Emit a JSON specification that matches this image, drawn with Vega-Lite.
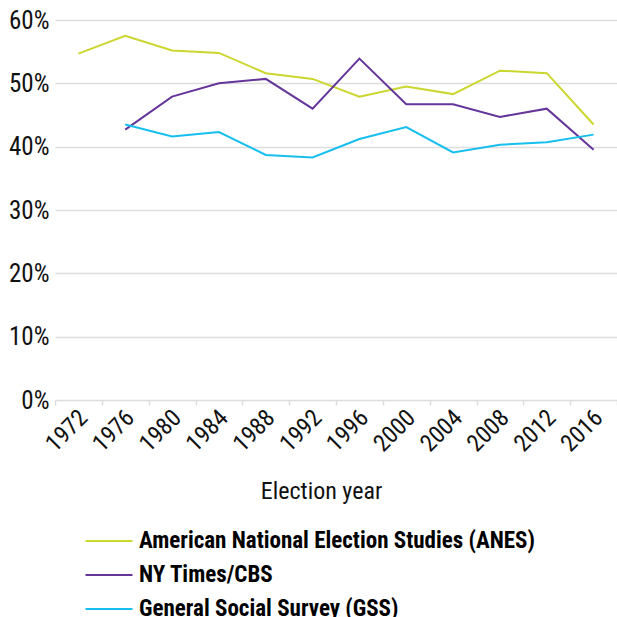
{
  "$schema": "https://vega.github.io/schema/vega-lite/v6.json",
  "autosize": "none",
  "padding": {"left": 55, "top": 20, "right": 0, "bottom": 217},
  "width": 562,
  "height": 380,
  "background": "white",
  "config": {
    "view": {"stroke": null},
    "font": "Roboto Condensed, Liberation Sans Narrow, DejaVu Sans Condensed, sans-serif"
  },
  "data": {
    "values": [
      {"year": "1972", "survey": "American National Election Studies (ANES)", "pct": 54.7},
      {"year": "1976", "survey": "American National Election Studies (ANES)", "pct": 57.5},
      {"year": "1980", "survey": "American National Election Studies (ANES)", "pct": 55.2},
      {"year": "1984", "survey": "American National Election Studies (ANES)", "pct": 54.8},
      {"year": "1988", "survey": "American National Election Studies (ANES)", "pct": 51.6},
      {"year": "1992", "survey": "American National Election Studies (ANES)", "pct": 50.7},
      {"year": "1996", "survey": "American National Election Studies (ANES)", "pct": 47.9},
      {"year": "2000", "survey": "American National Election Studies (ANES)", "pct": 49.5},
      {"year": "2004", "survey": "American National Election Studies (ANES)", "pct": 48.3},
      {"year": "2008", "survey": "American National Election Studies (ANES)", "pct": 52.0},
      {"year": "2012", "survey": "American National Election Studies (ANES)", "pct": 51.6},
      {"year": "2016", "survey": "American National Election Studies (ANES)", "pct": 43.5},
      {"year": "1976", "survey": "NY Times/CBS", "pct": 42.7},
      {"year": "1980", "survey": "NY Times/CBS", "pct": 47.9},
      {"year": "1984", "survey": "NY Times/CBS", "pct": 50.0},
      {"year": "1988", "survey": "NY Times/CBS", "pct": 50.7},
      {"year": "1992", "survey": "NY Times/CBS", "pct": 46.0},
      {"year": "1996", "survey": "NY Times/CBS", "pct": 53.9},
      {"year": "2000", "survey": "NY Times/CBS", "pct": 46.7},
      {"year": "2004", "survey": "NY Times/CBS", "pct": 46.7},
      {"year": "2008", "survey": "NY Times/CBS", "pct": 44.7},
      {"year": "2012", "survey": "NY Times/CBS", "pct": 46.0},
      {"year": "2016", "survey": "NY Times/CBS", "pct": 39.5},
      {"year": "1976", "survey": "General Social Survey (GSS)", "pct": 43.5},
      {"year": "1980", "survey": "General Social Survey (GSS)", "pct": 41.6},
      {"year": "1984", "survey": "General Social Survey (GSS)", "pct": 42.3},
      {"year": "1988", "survey": "General Social Survey (GSS)", "pct": 38.7},
      {"year": "1992", "survey": "General Social Survey (GSS)", "pct": 38.3},
      {"year": "1996", "survey": "General Social Survey (GSS)", "pct": 41.2},
      {"year": "2000", "survey": "General Social Survey (GSS)", "pct": 43.1},
      {"year": "2004", "survey": "General Social Survey (GSS)", "pct": 39.1},
      {"year": "2008", "survey": "General Social Survey (GSS)", "pct": 40.3},
      {"year": "2012", "survey": "General Social Survey (GSS)", "pct": 40.7},
      {"year": "2016", "survey": "General Social Survey (GSS)", "pct": 41.9}
    ]
  },
  "mark": {"type": "line", "strokeWidth": 2},
  "encoding": {
    "x": {
      "field": "year",
      "type": "ordinal",
      "bandPosition": 0.5,
      "scale": {"type": "band", "paddingInner": 0, "paddingOuter": 0},
      "axis": {
        "title": "Election year",
        "titleFontSize": 24,
        "titleFontWeight": "normal",
        "titleColor": "#111",
        "titlePadding": 24,
        "titleX": 266,
        "tickBand": "extent",
        "domain": false,
        "ticks": true,
        "tickColor": "#dddddd",
        "tickSize": 5,
        "tickWidth": 1.5,
        "grid": false,
        "labelAngle": -45,
        "labelAlign": "right",
        "labelBaseline": "middle",
        "labelFontSize": 24,
        "labelColor": "#111",
        "labelPadding": 9,
        "labelOffset": 5
      }
    },
    "y": {
      "field": "pct",
      "type": "quantitative",
      "scale": {"domain": [0, 60]},
      "axis": {
        "title": null,
        "values": [0, 10, 20, 30, 40, 50, 60],
        "labelExpr": "datum.value + '%'",
        "domain": false,
        "ticks": false,
        "grid": true,
        "gridColor": "#dddddd",
        "gridWidth": 1.5,
        "labelFontSize": 25,
        "labelColor": "#111",
        "labelPadding": 6
      }
    },
    "color": {
      "field": "survey",
      "type": "nominal",
      "scale": {
        "domain": ["American National Election Studies (ANES)", "NY Times/CBS", "General Social Survey (GSS)"],
        "range": ["#cbd62f", "#65359a", "#17bfee"]
      },
      "legend": {
        "title": null,
        "orient": "none",
        "direction": "vertical",
        "legendX": 41,
        "legendY": 508,
        "symbolType": "M-2,0H2",
        "symbolSize": 552,
        "symbolStrokeWidth": 2,
        "labelFontWeight": "bold",
        "labelFontSize": 23,
        "labelColor": "#000",
        "labelOffset": 17,
        "rowPadding": 9,
        "labelLimit": 600
      }
    }
  }
}
